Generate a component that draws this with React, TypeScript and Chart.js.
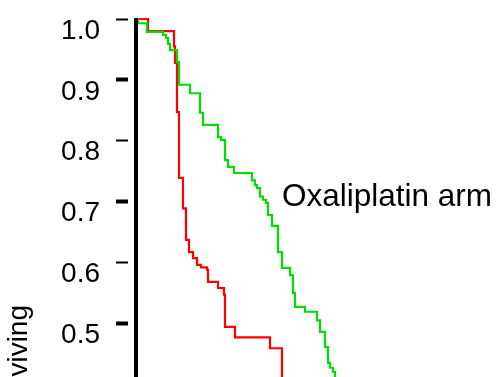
import React, { useEffect, useRef } from 'react';
import { Chart, registerables } from 'chart.js';

Chart.register(...registerables);

// y-axis tick values
const yTickValues = [0.5, 0.6, 0.7, 0.8, 0.9, 1.0];

// Control arm (red) – event times and survival after each event
const redTimes = [0, 1.2, 3.8, 3.9, 4.1, 4.3, 4.7, 5.0, 5.3, 5.7, 6.1, 6.5, 7.1, 7.2, 8.2, 8.8, 8.9, 9.9, 13.4, 14.6, 14.9];
const redSurv = [1.0, 0.98, 0.955, 0.928, 0.847, 0.739, 0.689, 0.637, 0.617, 0.607, 0.596, 0.592, 0.588, 0.568, 0.558, 0.547, 0.494, 0.477, 0.459, 0.4, 0.4];

// Oxaliplatin arm (green)
const greenTimes = [0, 0.2, 1.1, 2.7, 3.0, 3.2, 3.4, 4.1, 4.3, 5.4, 6.4, 6.7, 8.2, 8.5, 8.9, 9.2, 9.8, 11.6, 11.9, 12.1, 12.4, 12.7, 13.0, 13.2, 13.6, 14.2, 14.6, 15.4, 15.7, 15.9, 16.9, 18.1, 18.4, 18.9, 19.2, 19.4, 19.7, 19.9, 20.1];
const greenSurv = [1.0, 0.993, 0.979, 0.974, 0.969, 0.959, 0.949, 0.929, 0.892, 0.878, 0.846, 0.826, 0.806, 0.801, 0.768, 0.757, 0.747, 0.735, 0.727, 0.722, 0.708, 0.703, 0.698, 0.678, 0.66, 0.617, 0.591, 0.579, 0.55, 0.527, 0.519, 0.505, 0.486, 0.461, 0.435, 0.427, 0.42, 0.399, 0.399];

const yAxisTitle = 'Proportion surviving';
const armLabel = 'Oxaliplatin arm';
const armLabelAt = { t: 14.6, s: 0.693 };

const FONT = "'Liberation Sans', Arial, Helvetica, sans-serif";

const overlayPlugin = {
  id: 'overlay',
  afterDatasetsDraw(chart: any) {
    const { ctx, scales } = chart;
    const x = scales.x;
    const y = scales.y;
    ctx.save();
    // vertical axis line
    ctx.strokeStyle = '#000';
    ctx.lineWidth = 4;
    const ax = x.getPixelForValue(0);
    ctx.beginPath();
    ctx.moveTo(ax, y.getPixelForValue(1.0) - 1);
    ctx.lineTo(ax, chart.height + 5);
    ctx.stroke();

    // arm label
    ctx.fillStyle = '#000';
    ctx.font = `31.5px ${FONT}`;
    ctx.textAlign = 'left';
    ctx.textBaseline = 'alphabetic';
    ctx.fillText(armLabel, x.getPixelForValue(armLabelAt.t), y.getPixelForValue(armLabelAt.s));

    // y axis title (rotated)
    ctx.translate(27, 305);
    ctx.rotate(-Math.PI / 2);
    ctx.font = `28px ${FONT}`;
    ctx.textAlign = 'right';
    ctx.textBaseline = 'alphabetic';
    ctx.fillText(yAxisTitle, 0, 0);
    ctx.restore();
  },
};

export default function App() {
  const canvasRef = useRef<HTMLCanvasElement | null>(null);

  useEffect(() => {
    const canvas = canvasRef.current;
    if (!canvas) return;
    const chart = new Chart(canvas, {
      type: 'line',
      data: {
        datasets: [
          {
            label: 'Oxaliplatin arm',
            data: greenTimes.map((t, i) => ({ x: t, y: greenSurv[i] })),
            borderColor: '#00DD00',
            borderWidth: 2.2,
            stepped: 'before',
            pointRadius: 0,
            fill: false,
            clip: false as any,
          },
          {
            label: 'Control arm',
            data: redTimes.map((t, i) => ({ x: t, y: redSurv[i] })),
            borderColor: '#FF0000',
            borderWidth: 2.2,
            stepped: 'before',
            pointRadius: 0,
            fill: false,
            clip: false as any,
          },
        ],
      },
      options: {
        responsive: false,
        animation: false,
        devicePixelRatio: 1,
        layout: { padding: { top: 19, left: 0, right: 0, bottom: 0 } },
        plugins: {
          legend: { display: false },
          tooltip: { enabled: false },
          title: { display: false },
        },
        scales: {
          x: {
            type: 'linear',
            min: -0.8,
            max: 36.5,
            display: false,
          },
          y: {
            type: 'linear',
            min: 0.4118,
            max: 1.0,
            afterBuildTicks: (scale: any) => {
              scale.ticks = yTickValues.map((v) => ({ value: v }));
            },
            afterFit: (scale: any) => {
              scale.width = 128;
              scale.paddingTop = 0;
              scale.paddingBottom = 0;
              scale.paddingLeft = 0;
              scale.paddingRight = 0;
            },
            border: { display: false },
            grid: {
              drawOnChartArea: false,
              drawTicks: true,
              tickLength: 12,
              tickWidth: [4, 2, 4, 2, 4, 2] as any,
              tickColor: '#000',
            },
            ticks: {
              padding: 16,
              labelOffset: 12,
              color: '#000',
              font: { family: FONT, size: 28 },
              callback: (v: any) => Number(v).toFixed(1),
            },
          },
        },
      },
      plugins: [overlayPlugin],
    });
    return () => chart.destroy();
  }, []);

  return (
    <div style={{ position: 'absolute', left: 0, top: 0, width: 501, height: 377, background: '#fff' }}>
      <canvas ref={canvasRef} width={501} height={377} style={{ display: 'block' }} />
    </div>
  );
}
